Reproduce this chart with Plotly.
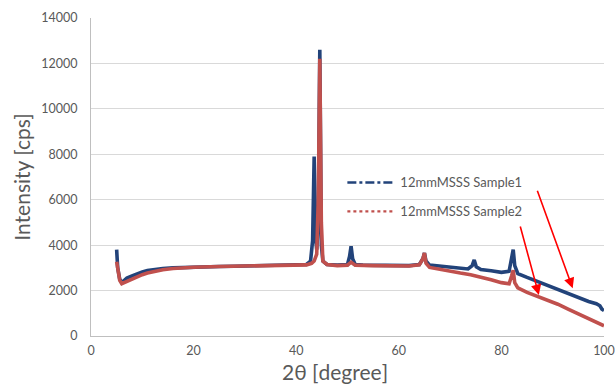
import plotly.graph_objects as go

# ---- data ----
s1_x = [5.0, 5.2, 5.6, 6.0, 6.5, 7, 8, 9, 10, 11, 12, 14, 16, 18, 20, 22, 25, 28, 30, 32, 35, 38, 40,
        42, 42.8, 43.2, 43.5, 43.7, 44.0, 44.3, 44.6, 44.9, 45.2, 46, 48, 50, 50.4, 50.7, 51.0, 51.5,
        53, 55, 58, 60, 62, 64, 64.7, 65.0, 65.3, 66, 68, 70, 72, 73.5, 74.3, 74.7, 75.1, 76, 78, 80,
        81.5, 82.0, 82.3, 82.6, 83.2, 85, 87, 89, 91, 93, 95, 97, 98.5, 99.2, 99.6, 100]
s1_y = [3800, 3000, 2500, 2350, 2450, 2550, 2650, 2750, 2820, 2880, 2920, 2970, 3000, 3020, 3040, 3050,
        3060, 3070, 3080, 3080, 3090, 3100, 3110, 3150, 3300, 4200, 7900, 4500, 3800, 5000, 12600, 4000,
        3300, 3150, 3120, 3150, 3500, 3950, 3400, 3150, 3120, 3110, 3100, 3100, 3100, 3150, 3400, 3650,
        3300, 3120, 3080, 3030, 2980, 2950, 3100, 3350, 3050, 2930, 2870, 2800, 2850, 3400, 3800, 3100,
        2750, 2580, 2400, 2200, 2030, 1880, 1700, 1520, 1420, 1330, 1180, 1120]

s2_x = [5.0, 5.2, 5.6, 6.0, 6.5, 7, 8, 9, 10, 11, 12, 14, 16, 18, 20, 25, 30, 35, 40, 42, 43, 43.5,
        44.0, 44.3, 44.6, 44.9, 45.2, 46, 48, 50, 50.7, 51.5, 55, 60, 62, 64, 64.7, 65.0, 65.3, 66, 68,
        70, 72, 74, 76, 78, 80, 81.5, 82.0, 82.3, 82.6, 83.2, 85, 87, 89, 91, 93, 95, 97, 99, 100]
s2_y = [3270, 2900, 2450, 2300, 2350, 2430, 2530, 2620, 2700, 2770, 2830, 2920, 2970, 3000, 3030, 3060,
        3070, 3080, 3100, 3130, 3200, 3300, 3600, 6000, 12200, 5000, 3300, 3150, 3100, 3120, 3250, 3120,
        3100, 3080, 3080, 3130, 3400, 3650, 3200, 3020, 2930, 2850, 2770, 2700, 2600, 2480, 2350, 2300,
        2650, 2900, 2350, 2120, 1920, 1760, 1600, 1400, 1180, 980, 780, 570, 450]

names = ["12mmMSSS Sample1", "12mmMSSS Sample2"]
colors = ["#22437A", "#C0504D"]
x_ticks = [0, 20, 40, 60, 80, 100]
y_ticks = [0, 2000, 4000, 6000, 8000, 10000, 12000, 14000]

fig = go.Figure()
# data lines
fig.add_trace(go.Scatter(x=s1_x, y=s1_y, mode="lines", line=dict(color=colors[0], width=3.6),
                         showlegend=False, hoverinfo="skip"))
fig.add_trace(go.Scatter(x=s2_x, y=s2_y, mode="lines", line=dict(color=colors[1], width=3.6),
                         showlegend=False, hoverinfo="skip"))
# legend entries
fig.add_trace(go.Scatter(x=[None], y=[None], mode="lines", name=names[0], legendgroup="a",
                         line=dict(color=colors[0], width=2.5, dash="dashdot")))
fig.add_trace(go.Scatter(x=[None], y=[None], mode="lines", name=names[1], legendgroup="b",
                         line=dict(color=colors[1], width=2.2, dash="dot")))

grey = "#595959"
fig.update_layout(
    width=616, height=386,
    margin=dict(l=91, r=12, t=18, b=50),
    paper_bgcolor="white", plot_bgcolor="white",
    font=dict(family="Lato, Open Sans, sans-serif", color=grey, size=12),
    legend=dict(x=0.49, y=0.53, xanchor="left", yanchor="top", bgcolor="rgba(0,0,0,0)",
                traceorder="grouped", tracegroupgap=9, itemwidth=48,
                font=dict(size=13, color=grey)),
    xaxis=dict(range=[0, 100], tickvals=x_ticks, ticktext=[str(v) for v in x_ticks],
               showgrid=False, zeroline=False, automargin=False,
               showline=True, linecolor="#BFBFBF", linewidth=1, ticks="", ticklabelstandoff=3,
               tickfont=dict(size=12.5, color=grey)),
    yaxis=dict(range=[0, 14000], tickvals=y_ticks, ticktext=[str(v) for v in y_ticks],
               showgrid=True, gridcolor="#D9D9D9", automargin=False,
               gridwidth=1, zeroline=False, showline=True, linecolor="#BFBFBF", linewidth=1,
               ticks="", ticklabelstandoff=10, tickfont=dict(size=12.5, color=grey),
               title=dict(text="Intensity [cps]", font=dict(size=21, color=grey), standoff=4)),
)

# x-axis title (placed as in the reference, slightly left of centre)
fig.add_annotation(text="2θ [degree]", xref="paper", yref="paper", x=0.476, y=-0.113,
                   xanchor="center", yanchor="middle", showarrow=False,
                   font=dict(size=21, color=grey))

arrows = [
    dict(tail=(86.9, 6460), head=(93.9, 2100)),
    dict(tail=(83.6, 4890), head=(87.3, 1805)),
]
for a in arrows:
    fig.add_annotation(x=a["head"][0], y=a["head"][1], ax=a["tail"][0], ay=a["tail"][1],
                       xref="x", yref="y", axref="x", ayref="y", text="", showarrow=True,
                       arrowhead=2, arrowsize=1.3, arrowwidth=1.6, arrowcolor="#FF0000")

fig.write_html("out.html")
